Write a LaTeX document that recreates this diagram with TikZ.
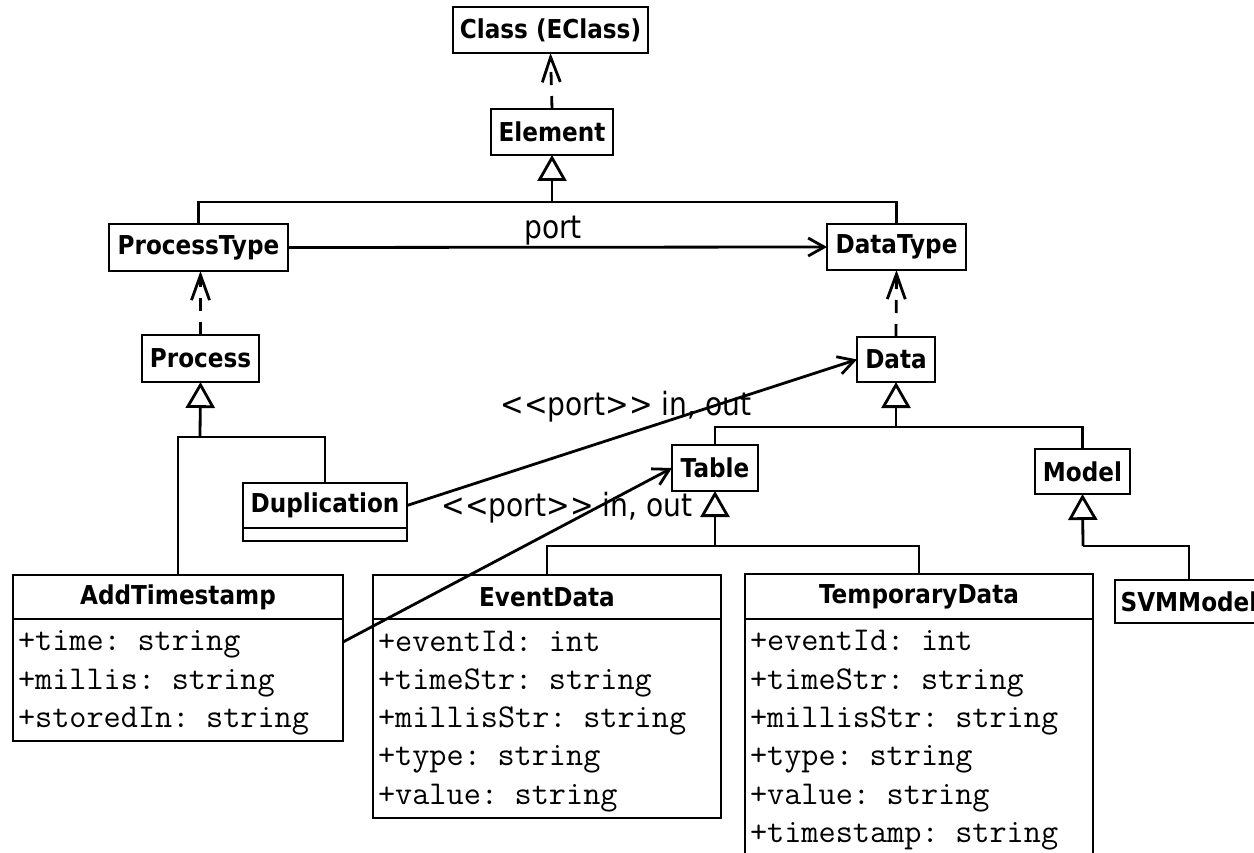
\documentclass[tikz,border=0pt]{standalone}
\usepackage{fontspec}
\usetikzlibrary{arrows.meta}
\newfontfamily\clsfont{DejaVu Sans}[FakeStretch=0.89]
\newfontfamily\lblfont{DejaVu Sans}[FakeStretch=0.88]
% fixed line box for attribute rows
\newcommand\rowstrut{\rule[-10pt]{0pt}{38.3pt}}
\begin{document}
\begin{tikzpicture}[x=1pt,y=-1pt,
  line width=2.8pt,
  cls/.style={draw, inner sep=0pt, outer sep=0pt, minimum height=46pt,
    font=\clsfont\bfseries\fontsize{26}{30}\selectfont},
  attrs/.style={draw, inner xsep=5pt, inner ysep=0pt, outer sep=0pt, align=left, anchor=north,
    font=\ttfamily\fontsize{33.3}{38.3}\selectfont},
  lbl/.style={font=\lblfont\fontsize{32}{36}\selectfont, inner sep=0pt, anchor=base},
  gen/.style={-{Triangle[open,length=26pt,width=29pt]}},
  dep/.style={dash pattern=on 13pt off 11pt, -{Straight Barb[length=25pt,width=18pt]}},
  assoc/.style={-{Straight Barb[length=16pt,width=18pt]}},
]
\useasboundingbox (0,0) rectangle (1254,853);
\fill[white] (0,0) rectangle (1254,853);
\clip (0,0) rectangle (1254,853);

% metamodel
\node[cls, minimum width=195pt] (cls) at (550.5,30) {Class (EClass)};
\node[cls, minimum width=122pt] (elem) at (552,132) {Element};
\node[cls, minimum width=179pt, minimum height=47pt] (ptype) at (198.5,247.5) {ProcessType};
\node[cls, minimum width=139pt] (dtype) at (896.5,247) {DataType};
\node[cls, minimum width=117pt, minimum height=47pt] (proc) at (200.5,358.5) {Process};
\node[cls, minimum width=78pt, minimum height=45pt] (data) at (896,359.5) {Data};

% data types
\node[cls, minimum width=86pt] (table) at (715,468) {Table};
\node[cls, minimum width=95pt, minimum height=45pt] (model) at (1082.5,471.5) {Model};
\node[cls, minimum width=148pt, minimum height=43pt] (svm) at (1189,601.5) {SVMModel};

% processes
\node[cls, minimum width=164pt, minimum height=45pt] (dup) at (325,505.5) {Duplication};
\node[draw, minimum width=164pt, minimum height=13pt, inner sep=0pt, outer sep=0pt, anchor=north] (dupb) at (dup.south) {};

\node[cls, minimum width=330pt, minimum height=44pt] (addts) at (178,597) {AddTimestamp};
\node[attrs, text width=320pt, minimum height=122pt] (addtsb) at (addts.south)
  {\rowstrut+time: string\\\rowstrut+millis: string\\\rowstrut+storedIn: string};

\node[cls, minimum width=348pt, minimum height=44pt] (evt) at (547,597) {EventData};
\node[attrs, text width=338pt, minimum height=199pt] (evtb) at (evt.south)
  {\rowstrut+eventId: int\\\rowstrut+timeStr: string\\\rowstrut+millisStr: string\\\rowstrut+type: string\\\rowstrut+value: string};

\node[cls, minimum width=348pt, minimum height=45pt] (tmp) at (919,596.5) {TemporaryData};
\node[attrs, text width=338pt, minimum height=237pt] (tmpb) at (tmp.south)
  {\rowstrut+eventId: int\\\rowstrut+timeStr: string\\\rowstrut+millisStr: string\\\rowstrut+type: string\\\rowstrut+value: string\\\rowstrut+timestamp: string};

% generalisation trees
\coordinate (j1) at (552,202);
\draw (ptype.north) |- (j1) -| (dtype.north);
\draw[gen] (j1) -- (elem.south);

\coordinate (j2) at (200,437);
\draw (addts.north) |- (j2) -| (dup.north);
\draw[gen] (j2) -- (proc.south);

\coordinate (j3) at (896,427);
\draw (table.north) |- (j3) -| (model.north);
\draw[gen] (j3) -- (data.south);

\coordinate (j4) at (715,546);
\draw (evt.north) |- (j4) -| (tmp.north);
\draw[gen] (j4) -- (table.south);

\coordinate (j5) at (1083,546);
\draw (svm.north) |- (j5);
\draw[gen] (j5) -- (model.south);

% instance-of dependencies
\draw[dep] (elem.north) -- (cls.south);
\draw[dep] (proc.north) -- (proc.north |- ptype.south);
\draw[dep] (data.north) -- (dtype.south);

% associations
\draw[assoc] (ptype.east) -- (dtype.west);
\node[lbl] (portlbl) at (553,239) {port};

\draw[assoc] (dup.east) -- (data.west);
\node[lbl] (portlbl2) at (626,415) {<\kern0pt<port>\kern0pt> in, out};

\draw[assoc] ([yshift=-23pt]addtsb.north east) -- (table.west);
\node[lbl] (portlbl3) at (567,516) {<\kern0pt<port>\kern0pt> in, out};
\end{tikzpicture}
\end{document}
